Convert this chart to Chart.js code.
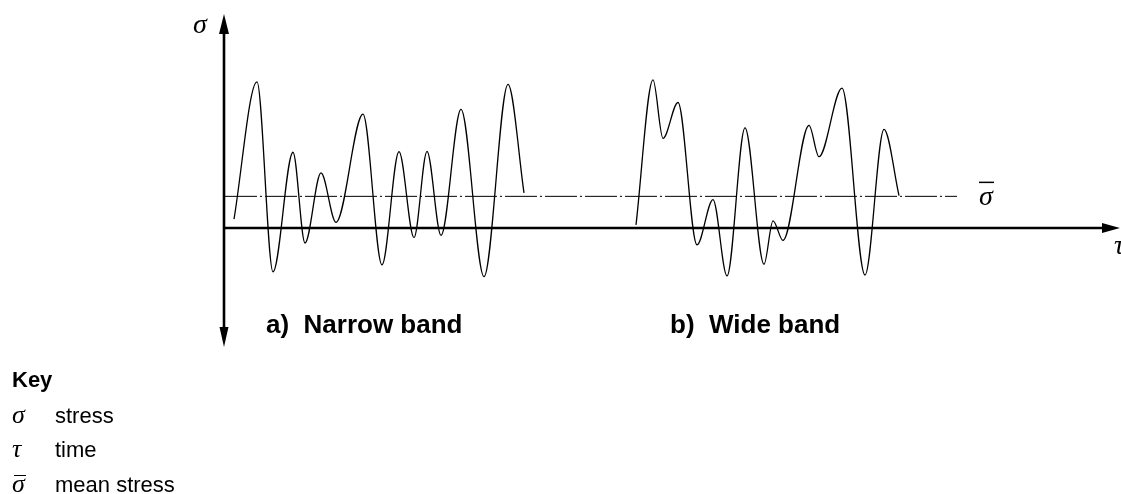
<!DOCTYPE html>
<html>
<head>
<meta charset="utf-8">
<title>Narrow band / wide band stress history</title>
<script src="https://cdn.jsdelivr.net/npm/chart.js@4.4.1/dist/chart.umd.min.js"></script>
<style>
  html, body { margin: 0; padding: 0; background: #fff; }
  #wrap { position: relative; width: 1121px; height: 494px; overflow: hidden; }
  #stressChart { position: absolute; left: 0; top: 0; }
  .key { position: absolute; left: 12px; top: 363px; font-family: "Liberation Sans", Arial, sans-serif; font-size: 22px; line-height: 34.5px; color: #000; }
  .key .title { font-weight: bold; }
  .key .row { height: 34.5px; white-space: nowrap; }
  .key .sym { display: inline-block; width: 43px; font-family: "Liberation Serif", "Times New Roman", serif; font-style: italic; font-size: 26px; }
  .key .bar { position: relative; }
  .key .bar::before { content: ''; position: absolute; left: 2px; top: 8px; width: 12px; border-top: 1.5px solid #000; }
</style>
</head>
<body>
<div id="wrap">
  <canvas id="stressChart" width="1121" height="494"></canvas>
  <div class="key">
    <div class="row title">Key</div>
    <div class="row"><span class="sym">σ</span>stress</div>
    <div class="row"><span class="sym">τ</span>time</div>
    <div class="row"><span class="sym bar">σ</span>mean stress</div>
  </div>
</div>
<script>
// Stress history samples (turning points), time and stress in arbitrary units
const narrowTime   = [1.0, 3.3, 4.9, 6.9, 8.1, 9.7, 11.2, 13.9, 15.8, 17.5, 19.0, 20.3, 21.7, 23.7, 26.0, 28.4, 30.0];
const narrowStress = [0.28, 4.61, -1.38, 2.39, -0.47, 1.74, 0.18, 3.59, -1.16, 2.41, -0.30, 2.42, -0.23, 3.74, -1.53, 4.53, 1.11];

const wideTime   = [41.2, 42.9, 43.9, 45.4, 47.3, 48.9, 50.3, 52.1, 54.0, 54.9, 55.9, 58.5, 59.5, 61.8, 64.1, 66.0, 67.5];
const wideStress = [0.10, 4.67, 2.83, 3.96, -0.53, 0.90, -1.51, 3.16, -1.14, 0.23, -0.39, 3.24, 2.25, 4.41, -1.48, 3.11, 1.02];

const meanStress = 1.0;
const meanSpan = [0.1, 73.3];

const timeRange = [0, 89.6];
const stressRange = [-3.75, 6.75];

const bandLabels = ['a)  Narrow band', 'b)  Wide band'];
const bandLabelTime = [4.2, 44.6];

function toPoints(xs, ys) {
  return xs.map((x, i) => ({ x: x, y: ys[i] }));
}

function arrowHead(ctx, x, y, dir, len, half) {
  // dir: unit vector the arrow points along
  const [dx, dy] = dir;
  ctx.beginPath();
  ctx.moveTo(x, y);
  ctx.lineTo(x - dx * len - dy * half, y - dy * len + dx * half);
  ctx.lineTo(x - dx * len + dy * half, y - dy * len - dx * half);
  ctx.closePath();
  ctx.fill();
}

// Axes with arrows plus the symbol and caption labels
const axesPlugin = {
  id: 'axesPlugin',
  afterDatasetsDraw(chart) {
    const ctx = chart.ctx;
    const area = chart.chartArea;
    const xs = chart.scales.x;
    const ys = chart.scales.y;
    const x0 = xs.getPixelForValue(0);
    const y0 = ys.getPixelForValue(0);

    ctx.save();
    ctx.strokeStyle = '#000';
    ctx.fillStyle = '#000';
    ctx.lineWidth = 2.6;

    // stress axis
    ctx.beginPath();
    ctx.moveTo(x0, area.top + 10);
    ctx.lineTo(x0, area.bottom - 10);
    ctx.stroke();
    arrowHead(ctx, x0, area.top, [0, -1], 20, 5);
    arrowHead(ctx, x0, area.bottom, [0, 1], 20, 4.5);

    // time axis
    ctx.beginPath();
    ctx.moveTo(x0, y0);
    ctx.lineTo(area.right - 10, y0);
    ctx.stroke();
    arrowHead(ctx, area.right, y0, [1, 0], 18, 5);

    // axis symbols
    ctx.font = 'italic 28px "Liberation Serif", "Times New Roman", serif';
    ctx.textAlign = 'center';
    ctx.textBaseline = 'middle';
    ctx.fillText('σ', x0 - 24, area.top + 12);
    ctx.fillText('τ', area.right - 1, y0 + 19);

    // mean stress symbol with overbar
    const mx = xs.getPixelForValue(meanSpan[1]) + 29;
    const my = ys.getPixelForValue(meanStress);
    ctx.fillText('σ', mx, my + 1);
    ctx.lineWidth = 1.5;
    ctx.beginPath();
    ctx.moveTo(mx - 7, my - 14);
    ctx.lineTo(mx + 8, my - 14);
    ctx.stroke();

    // captions
    ctx.font = 'bold 26px "Liberation Sans", Arial, sans-serif';
    ctx.textAlign = 'left';
    ctx.textBaseline = 'alphabetic';
    bandLabels.forEach((label, i) => {
      ctx.fillText(label, xs.getPixelForValue(bandLabelTime[i]), area.bottom - 14);
    });
    ctx.restore();
  }
};

const lineStyle = {
  borderColor: '#000',
  borderWidth: 1.3,
  pointRadius: 0,
  fill: false,
  cubicInterpolationMode: 'monotone'
};

new Chart(document.getElementById('stressChart'), {
  type: 'line',
  data: {
    datasets: [
      Object.assign({ label: 'Narrow band', data: toPoints(narrowTime, narrowStress) }, lineStyle),
      Object.assign({ label: 'Wide band', data: toPoints(wideTime, wideStress) }, lineStyle),
      {
        label: 'Mean stress',
        data: toPoints(meanSpan, [meanStress, meanStress]),
        borderColor: '#000',
        borderWidth: 1,
        borderDash: [32, 3, 2, 3],
        pointRadius: 0,
        fill: false
      }
    ]
  },
  options: {
    responsive: false,
    animation: false,
    layout: { padding: { left: 224, right: 1, top: 14, bottom: 147 } },
    plugins: {
      legend: { display: false },
      tooltip: { enabled: false }
    },
    scales: {
      x: { type: 'linear', min: timeRange[0], max: timeRange[1], display: false },
      y: { type: 'linear', min: stressRange[0], max: stressRange[1], display: false }
    }
  },
  plugins: [axesPlugin]
});
</script>
</body>
</html>
